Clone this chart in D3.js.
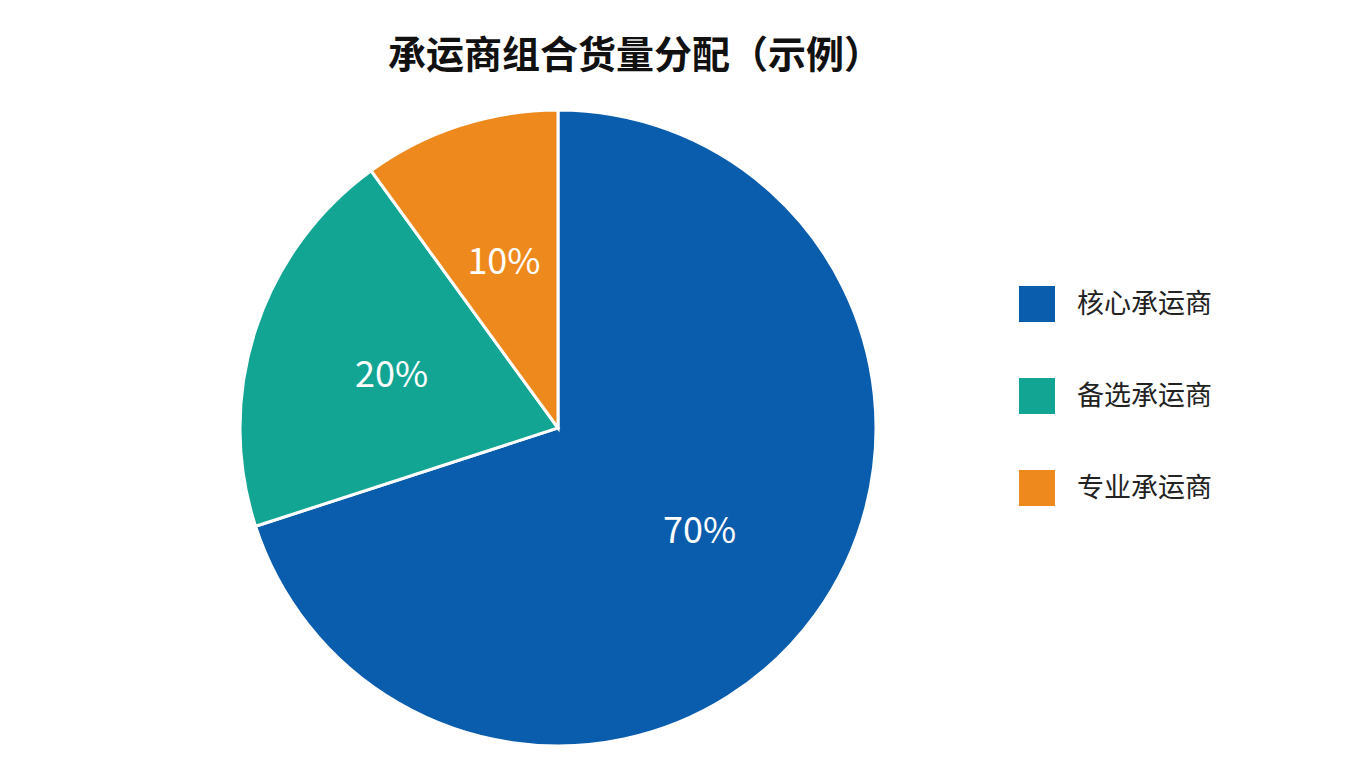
<!DOCTYPE html>
<html><head><meta charset="utf-8">
<script src="https://cdn.jsdelivr.net/npm/d3@7"></script>
<style>body{margin:0;background:#fff;font-family:"Noto Sans CJK SC","Noto Sans",sans-serif;}</style>
</head><body>
<svg id="chart"></svg>
<script>
const categories = ['核心承运商', '备选承运商', '专业承运商'];
const shares = [70, 20, 10];
const colors = ['#0a5cad', '#13a593', '#ee8a1d'];

const width = 1360, height = 768;
const svg = d3.select('#chart').attr('width', width).attr('height', height);

svg.append('text')
  .attr('x', 635).attr('y', 68)
  .attr('text-anchor', 'middle')
  .style('font-size', '38px').style('font-weight', 'bold').attr('fill', '#111')
  .text('承运商组合货量分配（示例）');

// pie
const cx = 558, cy = 428, radius = 318;
const data = categories.map((c, i) => ({ name: c, value: shares[i], color: colors[i] }));
const pie = d3.pie().value(d => d.value).sort(null);
const arc = d3.arc().innerRadius(0).outerRadius(radius);
const labelArc = d3.arc().innerRadius(radius * 0.55).outerRadius(radius * 0.55);

const g = svg.append('g').attr('transform', `translate(${cx},${cy})`);
const arcs = pie(data);
g.selectAll('path').data(arcs).join('path')
  .attr('d', arc).attr('fill', d => d.data.color)
  .attr('stroke', '#fff').attr('stroke-width', 3);

g.selectAll('.lbl').data(arcs).join('text')
  .attr('class', 'lbl')
  .attr('transform', d => `translate(${labelArc.centroid(d)})`)
  .attr('text-anchor', 'middle').attr('dy', '0.35em')
  .style('font-size', '36px').attr('fill', '#fff')
  .text(d => d.data.value + '%');

// legend
const legend = svg.append('g').attr('transform', 'translate(1019,286)');
const item = legend.selectAll('g').data(data).join('g')
  .attr('transform', (d, i) => `translate(0,${i * 92})`);
item.append('rect').attr('width', 36).attr('height', 36).attr('fill', d => d.color);
item.append('text').attr('x', 58).attr('y', 18).attr('dy', '0.35em')
  .style('font-size', '27px').attr('fill', '#222')
  .text(d => d.name);
</script>
</body></html>
